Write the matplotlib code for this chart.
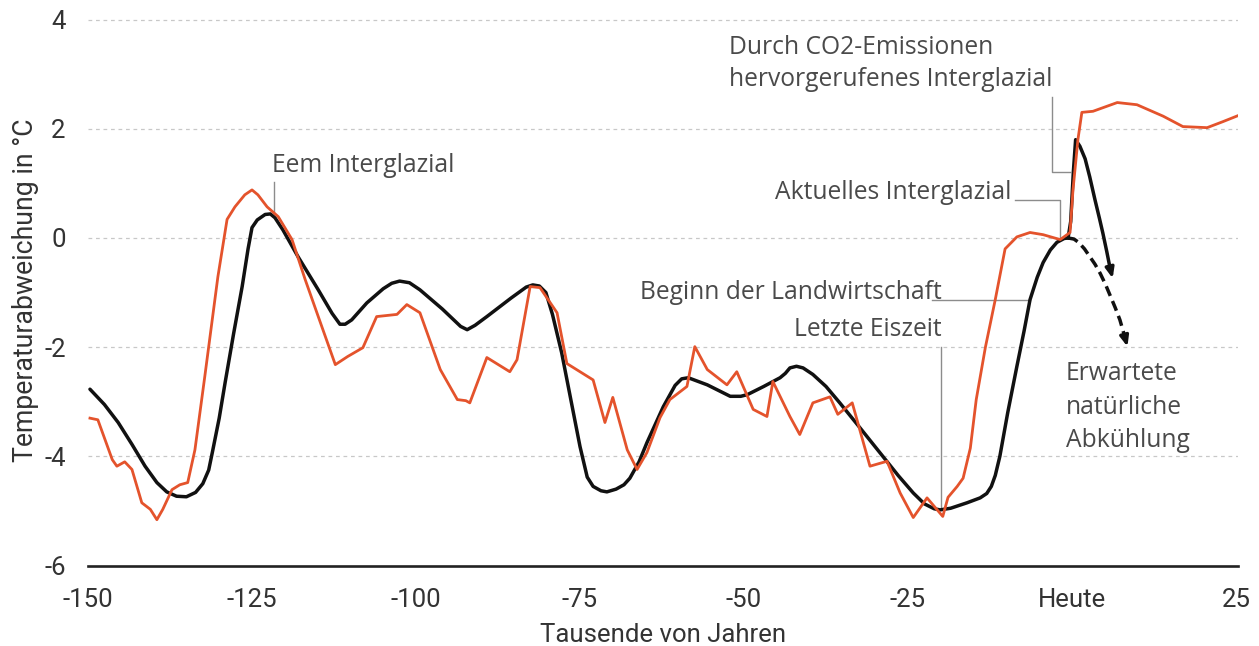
import matplotlib
matplotlib.use("Agg")
import matplotlib.pyplot as plt

# Temperaturabweichung, Rekonstruktion (schwarz) und Modell (orange)
black_x = [-149.7, -147.5, -145.4, -143.3, -141.3, -139.5, -138.0, -136.5, -135.0, -133.6,
           -132.5, -131.6, -131.0, -130.0, -129.1, -127.8, -126.5, -125.6, -125.0, -124.2,
           -123.0, -122.2, -121.5, -120.3, -118.0, -114.9, -112.8, -111.6, -110.8, -109.8,
           -107.5, -105.0, -103.7, -102.5, -101.0, -99.4, -96.0, -93.2, -92.2, -91.0,
           -89.2, -85.5, -83.2, -82.2, -81.2, -80.2, -79.2, -77.8, -75.0, -73.9,
           -73.0, -71.8, -70.9, -69.5, -68.3, -67.4, -66.0, -64.8, -62.3, -60.5,
           -59.5, -58.5, -55.6, -52.1, -50.5, -49.5, -47.0, -44.5, -43.7, -43.0,
           -42.0, -41.0, -39.5, -37.5, -35.4, -32.5, -29.3, -26.5, -24.2, -22.5,
           -21.0, -20.1, -18.5, -16.0, -14.0, -13.0, -12.3, -11.7, -11.0, -9.8,
           -8.4, -7.3, -6.4, -5.3, -4.4, -3.3, -2.3, -1.2, -0.6]
black_y = [-2.77, -3.05, -3.38, -3.78, -4.18, -4.48, -4.65, -4.73, -4.74, -4.66,
           -4.50, -4.25, -3.90, -3.30, -2.65, -1.75, -0.89, -0.20, 0.19, 0.33,
           0.43, 0.44, 0.37, 0.15, -0.34, -0.95, -1.38, -1.58, -1.58, -1.50,
           -1.19, -0.93, -0.83, -0.79, -0.82, -0.95, -1.30, -1.62, -1.68, -1.60,
           -1.44, -1.10, -0.90, -0.86, -0.88, -1.00, -1.40, -2.10, -3.82, -4.38,
           -4.55, -4.63, -4.65, -4.60, -4.52, -4.40, -4.10, -3.75, -3.09, -2.70,
           -2.58, -2.56, -2.69, -2.90, -2.90, -2.87, -2.72, -2.56, -2.48, -2.38,
           -2.35, -2.38, -2.50, -2.72, -3.02, -3.45, -3.93, -4.35, -4.67, -4.87,
           -4.96, -4.98, -4.95, -4.85, -4.76, -4.68, -4.55, -4.35, -4.00, -3.20,
           -2.35, -1.70, -1.13, -0.72, -0.45, -0.22, -0.08, -0.01, 0.0]

orange_x = [-149.7, -148.5, -146.3, -145.6, -144.4, -143.3, -141.8, -140.5, -139.5, -138.6,
            -137.2, -136.0, -134.8, -133.7, -132.2, -130.2, -128.8, -127.6, -126.1, -125.0,
            -124.1, -122.7, -121.0, -118.9, -116.9, -114.9, -112.3, -110.4, -108.1, -106.0,
            -102.9, -101.4, -99.4, -96.3, -93.7, -92.4, -91.8, -89.2, -85.7, -84.6,
            -82.6, -81.1, -78.5, -77.0, -73.0, -71.2, -70.0, -67.8, -66.3, -64.8,
            -62.8, -61.3, -58.7, -57.5, -55.6, -52.6, -51.1, -48.6, -46.5, -45.6,
            -43.0, -41.5, -39.5, -36.9, -35.7, -33.5, -30.8, -28.2, -26.2, -24.2,
            -22.1, -19.7, -18.9, -17.5, -16.6, -15.5, -14.6, -13.2, -11.7, -10.2,
            -8.4, -6.4, -4.4, -1.8, -0.3, 0.15, 0.9, 1.5, 3.2, 6.9,
            9.9, 13.9, 16.9, 20.6, 23.0, 25.3]
orange_y = [-3.30, -3.33, -4.06, -4.18, -4.10, -4.24, -4.85, -4.97, -5.16, -4.97,
            -4.61, -4.52, -4.48, -3.88, -2.54, -0.71, 0.34, 0.57, 0.79, 0.88,
            0.79, 0.57, 0.39, -0.03, -0.76, -1.44, -2.32, -2.17, -2.01, -1.44,
            -1.40, -1.22, -1.37, -2.41, -2.96, -2.98, -3.02, -2.19, -2.45, -2.23,
            -0.89, -0.91, -1.37, -2.30, -2.60, -3.38, -2.92, -3.88, -4.24, -3.93,
            -3.29, -2.96, -2.72, -1.99, -2.41, -2.69, -2.45, -3.14, -3.27, -2.63,
            -3.27, -3.60, -3.02, -2.91, -3.23, -3.02, -4.18, -4.09, -4.67, -5.12,
            -4.76, -5.10, -4.75, -4.55, -4.40, -3.85, -2.96, -2.00, -1.13, -0.20,
            0.02, 0.10, 0.06, -0.03, 0.10, 0.88, 1.80, 2.30, 2.32, 2.48,
            2.44, 2.23, 2.04, 2.02, 2.13, 2.24]

# Projektionen ab heute
co2_x = [-0.6, -0.2, 0.2, 0.55, 1.2, 2.0, 2.7, 3.5, 4.2, 4.7, 5.3, 5.8, 6.2]
co2_y = [0.0, 0.3, 1.2, 1.80, 1.68, 1.45, 1.12, 0.70, 0.35, 0.09, -0.25, -0.55, -0.74]
natural_x = [-0.6, 0.3, 1.0, 1.9, 2.7, 3.5, 4.3, 5.1, 5.8, 6.6, 7.3, 7.9, 8.45]
natural_y = [0.0, -0.02, -0.08, -0.20, -0.34, -0.48, -0.65, -0.85, -1.05, -1.28, -1.50, -1.75, -1.99]

x_ticks = [-150, -125, -100, -75, -50, -25, 0, 25]
x_labels = ["-150", "-125", "-100", "-75", "-50", "-25", "Heute", "25"]
y_ticks = [-6, -4, -2, 0, 2, 4]
y_labels = ["-6", "-4", "-2", "0", "2", "4"]

ORANGE = "#e4532c"
TXT = "#4a4a4a"
LEAD = "#8c8c8c"
ann_font = dict(family="Open Sans", fontsize=17.7, color=TXT)

fig = plt.figure(figsize=(12.59, 6.46), dpi=100)
ax = fig.add_axes([0.0699, 0.1245, 0.9134, 0.8706])

for yv in [-4, -2, 0, 2, 4]:
    ax.axhline(yv, color="#c8c8c8", lw=0.9, ls=(0, (3, 3)), zorder=0)

ax.plot(black_x, black_y, color="#111111", lw=2.5, solid_joinstyle="round",
        solid_capstyle="round", zorder=3)
ax.plot(orange_x, orange_y, color=ORANGE, lw=2.0, solid_joinstyle="round", zorder=4)

# Pfeile
ax.plot(co2_x[:-1], co2_y[:-1], color="#111111", lw=2.5, solid_joinstyle="round", zorder=3)
ax.annotate("", xy=(co2_x[-1], co2_y[-1]), xytext=(co2_x[-2], co2_y[-2]),
            arrowprops=dict(arrowstyle="-|>,head_length=0.6,head_width=0.25",
                            color="#111111", lw=2.4, shrinkA=0, shrinkB=0), zorder=3)
ax.plot(natural_x[:-1], natural_y[:-1], color="#111111", lw=2.5, ls=(0, (3, 1.6)), zorder=3)
ax.annotate("", xy=(natural_x[-1], natural_y[-1]), xytext=(natural_x[-2], natural_y[-2]),
            arrowprops=dict(arrowstyle="-|>,head_length=0.6,head_width=0.25",
                            color="#111111", lw=2.4, shrinkA=0, shrinkB=0), zorder=3)

# Beschriftungen mit Hinweislinien
ax.plot([-121.6, -121.6], [1.03, 0.46], color=LEAD, lw=1.0, zorder=2)
ax.text(-121.9, 1.33, "Eem Interglazial", ha="left", va="center", **ann_font)

ax.plot([-3.05, -3.05, -0.3], [2.58, 1.20, 1.20], color=LEAD, lw=1.0, zorder=2)
ax.text(-52.3, 3.20, "Durch CO2-Emissionen\nhervorgerufenes Interglazial",
        ha="left", va="center", linespacing=1.38, **ann_font)

ax.plot([-8.7, -1.8, -1.8], [0.70, 0.70, 0.0], color=LEAD, lw=1.0, zorder=2)
ax.text(-9.2, 0.72, "Aktuelles Interglazial", ha="right", va="baseline", **ann_font)

ax.plot([-21.3, -6.4], [-1.13, -1.13], color=LEAD, lw=1.0, zorder=2)
ax.text(-19.8, -1.11, "Beginn der Landwirtschaft", ha="right", va="baseline", **ann_font)

ax.plot([-20.0, -20.0], [-2.0, -4.97], color=LEAD, lw=1.0, zorder=2)
ax.text(-19.8, -1.80, "Letzte Eiszeit", ha="right", va="baseline", **ann_font)

ax.text(-0.9, -3.10, "Erwartete\nnatürliche\nAbkühlung", ha="left", va="center",
        linespacing=1.45, **ann_font)

ax.set_xlim(-150, 25.3)
ax.set_ylim(-6, 4.3)
ax.set_xticks(x_ticks)
ax.set_xticklabels(x_labels)
ax.set_yticks(y_ticks)
ax.set_yticklabels(y_labels)
ax.tick_params(axis="both", length=0, labelsize=18.5, labelcolor="#333333")
ax.tick_params(axis="x", pad=16)
ax.tick_params(axis="y", pad=16)
for lab in ax.get_xticklabels() + ax.get_yticklabels():
    lab.set_family("Roboto")

for s in ["top", "right", "left"]:
    ax.spines[s].set_visible(False)
ax.spines["bottom"].set_color("#222222")
ax.spines["bottom"].set_linewidth(1.9)

ax.set_xlabel("Tausende von Jahren", family="Roboto", fontsize=18.5, color="#333333", labelpad=8)
ax.set_ylabel("Temperaturabweichung in °C", family="Roboto", fontsize=19.2, color="#333333")
ax.yaxis.set_label_coords(-0.043, 0.49)

fig.savefig("out.png", dpi=100)
